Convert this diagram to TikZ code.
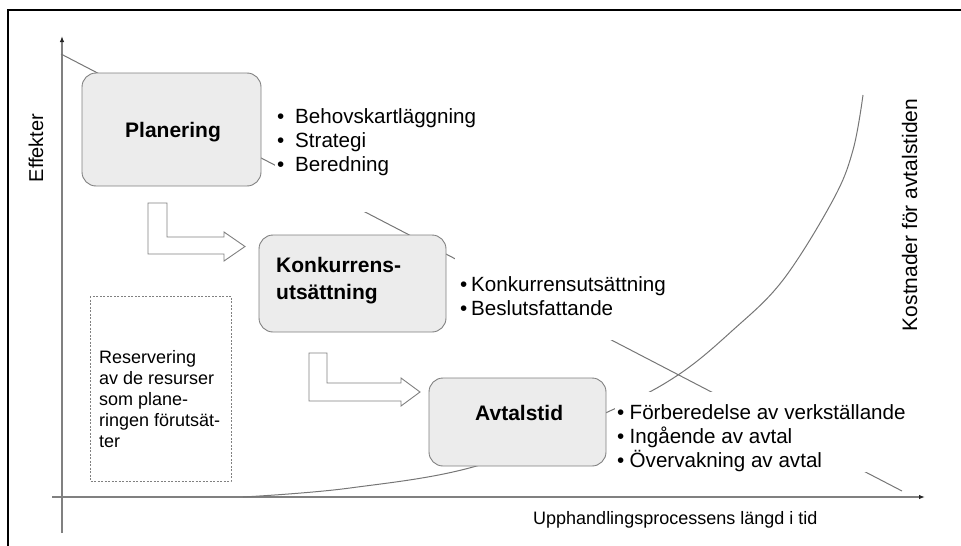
\documentclass[tikz,border=0pt]{standalone}
\usepackage{fontspec}
\setmainfont{Liberation Sans}
\usetikzlibrary{arrows.meta}
\definecolor{axisgray}{RGB}{128,128,128}
\definecolor{boxfill}{RGB}{236,236,236}
\definecolor{linegray}{RGB}{118,118,118}
\begin{document}
\begin{tikzpicture}[x=1pt,y=-1pt,
  phase/.style={draw=axisgray, fill=boxfill, rounded corners=14pt, line width=0.9pt},
  hollowarrow/.style={draw=axisgray, fill=white, line width=0.9pt, line join=miter},
  axisline/.style={draw=axisgray, line width=1.4pt, -{Latex[length=6pt,width=4.5pt,color=black!85]}},
  trend/.style={draw=linegray, line width=1pt},
  bul/.style={anchor=base west, inner sep=0pt, font=\fontsize{20.6}{24}\selectfont},
  phasetext/.style={anchor=base west, inner sep=0pt, font=\fontsize{21}{27}\selectfont\bfseries, align=left},
  mask/.style={fill=white}]
\useasboundingbox (0,0) rectangle (961,546);
% frame
\draw[line width=2pt] (8,546) -- (8,10) -- (961,10);
% axes
\coordinate (yb) at (62,533);
\coordinate (yt) at (62,36);
\coordinate (xl) at (52,497);
\coordinate (xr) at (925,497);
\draw[axisline] (yb) -- (yt);
\draw[axisline] (xl) -- (xr);
% descending effect line
\coordinate (ds) at (61,54);
\coordinate (de) at (902,491);
\draw[trend] (ds) -- (de);
% rising cost curve
\draw[trend] plot[smooth, tension=0.6] coordinates {(243,497) (350,488) (480,465) (612,410) (678,375) (733,330) (783,280) (833,200) (853,150) (863,95)};
% masks behind bullet lists
\fill[mask] (275,95) rectangle (490,212);
\fill[mask] (455,257) rectangle (690,340);
\fill[mask] (615,392) rectangle (912,472);
% phase boxes
\draw[phase] (82,73) rectangle (261,186);
\node[inner sep=0, minimum size=0] (planbox) at (171.5,129.5) {};
\draw[phase] (259,235) rectangle (446,332);
\node[inner sep=0, minimum size=0] (konkbox) at (352.5,283.5) {};
\draw[phase] (429,378) rectangle (606,466);
\node[inner sep=0, minimum size=0] (avtbox) at (517.5,422) {};
\node[phasetext] (plan) at (125,137) {Planering};
\node[phasetext] (konk) at (276,299) {Konkurrens-\\utsättning};
\node[phasetext] (avt) at (475,420) {Avtalstid};
% hollow L arrows
\draw[hollowarrow] (148,203) -- (167,203) -- (167,237) -- (224,237) -- (224,232) -- (245,246.5) -- (224,261) -- (224,254) -- (148,254) -- cycle;
\draw[hollowarrow] (309,353) -- (327,353) -- (327,383) -- (401,383) -- (401,378) -- (420,392) -- (401,406) -- (401,401) -- (309,401) -- cycle;
% bullet lists
\node[bul] (p1) at (277,123) {\makebox[18pt][l]{•}Behovskartläggning};
\node[bul] (p2) at (277,147) {\makebox[18pt][l]{•}Strategi};
\node[bul] (p3) at (277,171) {\makebox[18pt][l]{•}Beredning};
\node[bul] (k1) at (460,291) {\makebox[11pt][l]{•}Konkurrensutsättning};
\node[bul] (k2) at (460,315) {\makebox[11pt][l]{•}Beslutsfattande};
\node[bul] (a1) at (617,419) {\makebox[12.5pt][l]{•}Förberedelse av verkställande};
\node[bul] (a2) at (617,443) {\makebox[12.5pt][l]{•}Ingående av avtal};
\node[bul] (a3) at (617,467) {\makebox[12.5pt][l]{•}Övervakning av avtal};
% dotted reservation box
\draw[draw=axisgray, line width=0.8pt, dash pattern=on 2pt off 1.5pt] (90,296) rectangle (231,481);
\node[anchor=base west, inner sep=0pt, align=left, font=\fontsize{18}{21}\selectfont] (res) at (99,447) {Reservering\\av de resurser\\som plane-\\ringen förutsät-\\ter};
% axis labels
\node[anchor=base west, inner sep=0pt, font=\fontsize{18}{21}\selectfont] (xlab) at (533,524) {Upphandlingsprocessens längd i tid};
\node[rotate=90, anchor=base, inner sep=0pt, font=\fontsize{20}{24}\selectfont] (ylab) at (43,148) {Effekter};
\node[rotate=90, anchor=base, inner sep=0pt, font=\fontsize{21}{25}\selectfont] (clab) at (917,215) {Kostnader för avtalstiden};
\end{tikzpicture}
\end{document}
